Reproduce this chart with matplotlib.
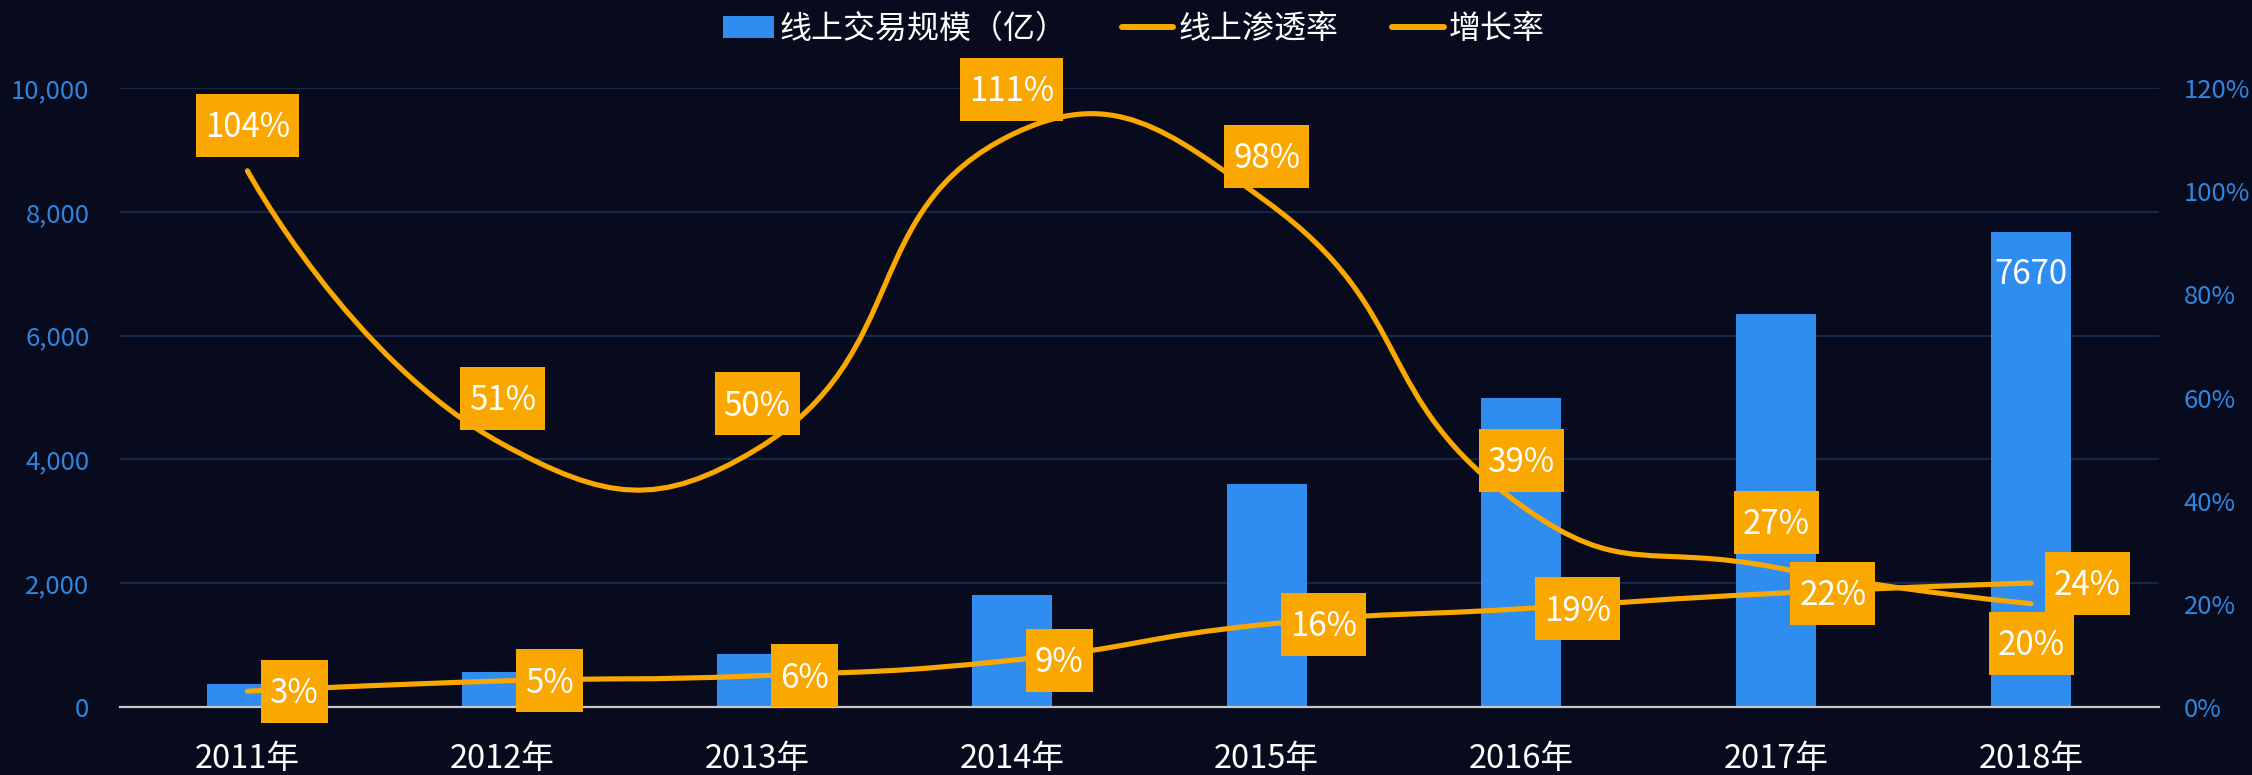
import numpy as np
import matplotlib
matplotlib.use('Agg')
import matplotlib.pyplot as plt
from matplotlib.path import Path
from matplotlib.patches import PathPatch, Rectangle, Patch
from matplotlib.lines import Line2D
from matplotlib.transforms import IdentityTransform

# ---------------- data ----------------
years = ['2011年', '2012年', '2013年', '2014年', '2015年', '2016年', '2017年', '2018年']
volume = [360, 560, 850, 1800, 3600, 5000, 6350, 7670]          # 线上交易规模（亿）
penetration = [3, 5, 6, 9, 16, 19, 22, 24]                        # 线上渗透率 %
growth = [104, 51, 50, 111, 98, 39, 27, 20]                       # 增长率 %
series_names = ['线上交易规模（亿）', '线上渗透率', '增长率']
left_ticks = [0, 2000, 4000, 6000, 8000, 10000]
right_ticks = [0, 20, 40, 60, 80, 100, 120]
bar_label_index = [7]   # only the last bar carries a value label

# ---------------- style ----------------
plt.rcParams['font.family'] = ['Noto Sans CJK SC', 'DejaVu Sans']
BG = '#080a1e'
BLUE = '#2e8def'
TICK_BLUE = '#2f86e0'
ORANGE = '#faa800'
GRID = '#142a4c'
AXLINE = '#c8c8c8'

W, H = 2252, 775
fig = plt.figure(figsize=(W / 100, H / 100), dpi=100, facecolor=BG)
y0_px, ytop_px = 706.7, 88.3
x0_px, x1_px = 120, 2158.5
ax = fig.add_axes([x0_px / W, (H - y0_px) / H, (x1_px - x0_px) / W, (y0_px - ytop_px) / H])
ax.set_facecolor(BG)
ax2 = ax.twinx()

x = np.arange(len(years))
ax.set_xlim(-0.5, len(years) - 0.5)
ax.set_ylim(0, 10000)
ax2.set_ylim(0, 120)

# bars
ax.bar(x, volume, width=0.314, color=BLUE, zorder=2)

# grid / axes
ax.set_yticks(left_ticks)
ax.set_yticklabels([f'{v:,}' for v in left_ticks])
ax.yaxis.grid(True, color=GRID, lw=1.4, zorder=0)
ax.set_axisbelow(True)
for s in ['left', 'right', 'top']:
    ax.spines[s].set_visible(False)
for s in ['left', 'right', 'top', 'bottom']:
    ax2.spines[s].set_visible(False)
ax.spines['bottom'].set_color(AXLINE)
ax.spines['bottom'].set_linewidth(1.6)
ax.spines['bottom'].set_zorder(2.5)

ax.tick_params(axis='y', length=0, pad=22, labelsize=18.5, labelcolor=TICK_BLUE)
ax.set_xticks(x)
ax.set_xticklabels(years)
ax.tick_params(axis='x', length=0, pad=26, labelsize=23.5, labelcolor='white')
ax2.set_yticks(right_ticks)
ax2.set_yticklabels([f'{v}%' for v in right_ticks])
ax2.tick_params(axis='y', length=0, pad=18, labelsize=18.5, labelcolor=TICK_BLUE)


# ---------------- smooth lines (echarts-like bezier smoothing) ----------------
def smooth_path(axis, xs, ys, smooth=0.5):
    pts = axis.transData.transform(np.column_stack([xs, ys]))
    n = len(pts)
    cin, cout = [], []
    for i in range(n):
        p = pts[i]
        if i == 0 or i == n - 1:
            cin.append(p.copy()); cout.append(p.copy())
            continue
        prv, nxt = pts[i - 1], pts[i + 1]
        v = nxt - prv
        d0 = np.hypot(*(p - prv)); d1 = np.hypot(*(nxt - p))
        s = d0 + d1
        r_prev, r_next = d0 / s, d1 / s
        cin.append(p - v * smooth * r_prev)
        cout.append(p + v * smooth * r_next)
    verts = [pts[0]]
    codes = [Path.MOVETO]
    for i in range(n - 1):
        verts += [cout[i], cin[i + 1], pts[i + 1]]
        codes += [Path.CURVE4] * 3
    verts = axis.transData.inverted().transform(np.array(verts))
    return Path(verts, codes)


for vals in (penetration, growth):
    ax2.add_patch(PathPatch(smooth_path(ax2, x, vals), fill=False, edgecolor=ORANGE,
                            lw=3.7, capstyle='round', joinstyle='round', zorder=3))

# ---------------- labels ----------------
renderer = fig.canvas.get_renderer()
LBL_FS = 23.8
LBL_PX = LBL_FS * 100 / 72
DIGIT_H = 0.73 * LBL_PX
BOX_H = 63
PAD_X = 9


def label_box(xd, yd, text, where):
    px, py = ax2.transData.transform((xd, yd))
    t = fig.text(0, 0, text, fontsize=LBL_FS, color='white', transform=IdentityTransform(),
                 ha='center', va='baseline', zorder=11)
    w = t.get_window_extent(renderer).width
    bw = w + 2 * PAD_X
    if where == 'top':
        cx, cy = px, py + 14 + BOX_H / 2
    elif where == 'bottom':
        cx, cy = px, py - 8 - BOX_H / 2
    else:
        cx, cy = px + 14 + bw / 2, py
    t.set_position((cx, cy - DIGIT_H / 2))
    fig.add_artist(Rectangle((cx - bw / 2, cy - BOX_H / 2), bw, BOX_H, transform=IdentityTransform(),
                             facecolor=ORANGE, edgecolor='none', zorder=10))


for i, v in enumerate(penetration):
    label_box(x[i], v, f'{v}%', 'right')
for i, v in enumerate(growth):
    label_box(x[i], v, f'{v}%', 'bottom' if i == len(growth) - 1 else 'top')

for i in bar_label_index:
    px, py = ax.transData.transform((x[i], volume[i]))
    fig.text(px, py - 40 - DIGIT_H / 2, f'{volume[i]}', fontsize=LBL_FS, color='white',
             transform=IdentityTransform(), ha='center', va='baseline', zorder=11)

# ---------------- legend ----------------
handles = [Patch(facecolor=BLUE, edgecolor='none'),
           Line2D([], [], color=ORANGE, lw=4.3, solid_capstyle='round'),
           Line2D([], [], color=ORANGE, lw=4.3, solid_capstyle='round')]
fig.legend(handles, series_names, loc='center', bbox_to_anchor=(1134 / W, 1 - 29 / H), ncol=3,
           frameon=False, fontsize=23, labelcolor='white', handlelength=1.6, handleheight=0.66,
           handletextpad=0.16, columnspacing=1.7, borderaxespad=0, borderpad=0)

fig.savefig('out.png', dpi=100, facecolor=BG)
